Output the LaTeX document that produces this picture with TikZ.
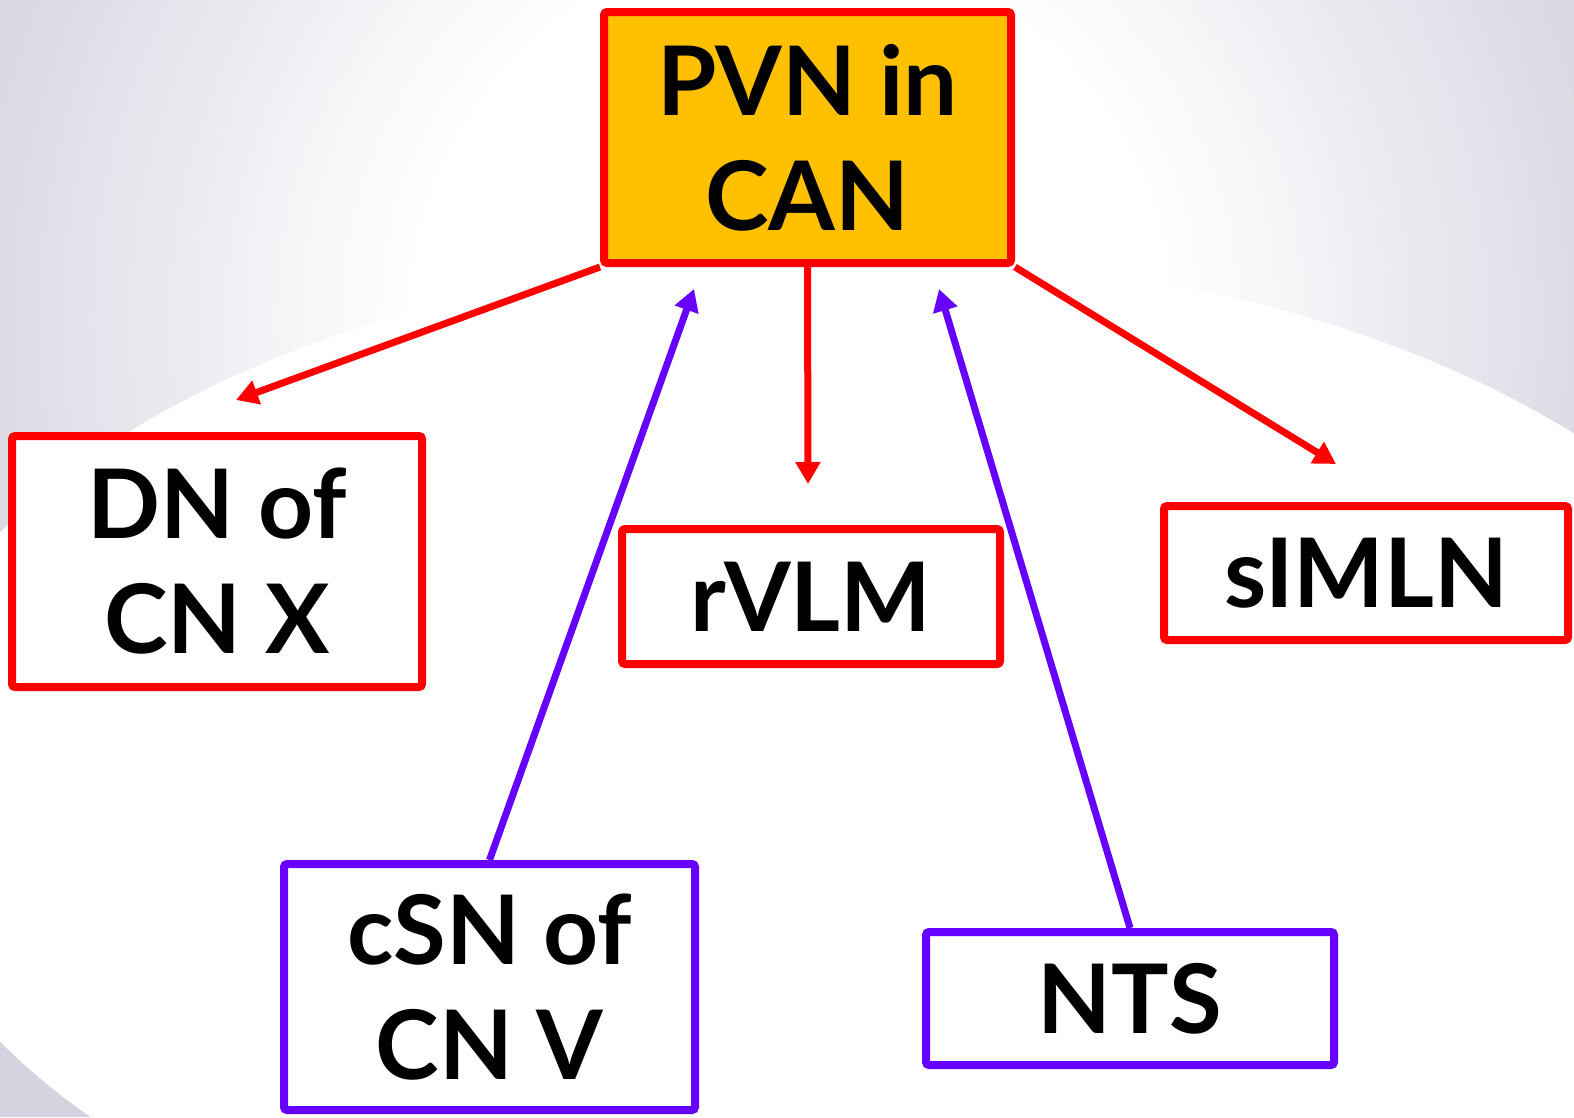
\documentclass[tikz,border=0pt]{standalone}
\usepackage{fontspec}
\setmainfont{Lato}
\usetikzlibrary{arrows.meta}
\definecolor{bggray}{RGB}{214,210,223}
\definecolor{boxred}{RGB}{255,0,0}
\definecolor{boxpurple}{RGB}{102,0,255}
\definecolor{gold}{RGB}{255,192,0}
\begin{document}
\begin{tikzpicture}[x=1pt,y=-1pt,
  box/.style={draw, line width=8pt, rounded corners=3pt, fill=white, align=center,
    inner sep=0pt, font=\fontsize{96}{115}\selectfont\bfseries},
  redbox/.style={box, draw=boxred},
  purplebox/.style={box, draw=boxpurple},
  conn/.style={line width=7pt, -{Triangle[length=22pt,width=24pt]}}
]
\useasboundingbox (0,0) rectangle (1574,1117);
\begin{scope}
\clip (0,0) rectangle (1574,1117);
\fill[bggray] (0,0) rectangle (1574,1117);
\foreach \i in {0,...,48}{
  \pgfmathsetmacro{\rad}{900-\i*10.8}
  \pgfmathsetmacro{\pct}{100-\i*100/48}
  \fill[bggray!\pct!white] (790,320) circle (\rad pt);
}
\fill[white] (850,787) ellipse [x radius=967pt, y radius=533pt];
\end{scope}

\node[redbox, fill=gold, minimum width=407pt, minimum height=251pt] (pvn) at (807.5,137.5) {PVN in\\CAN};
\node[redbox, minimum width=410pt, minimum height=251pt] (dn) at (217,561.5) {DN of\\CN X};
\node[redbox, minimum width=378pt, minimum height=135pt] (rvlm) at (811,596.5) {rVLM};
\node[redbox, minimum width=404pt, minimum height=134pt] (simln) at (1366,573) {sIMLN};
\node[purplebox, minimum width=411pt, minimum height=246pt] (csn) at (489.5,987) {cSN of\\CN V};
\node[purplebox, minimum width=408pt, minimum height=133pt] (nts) at (1130,998.5) {NTS};

\coordinate (tipdn) at (236,400);
\coordinate (tiprv) at (808,484);
\coordinate (tipsi) at (1336,464);
\coordinate (tipcs) at (694,289);
\coordinate (tipnt) at (939,289);

\draw[conn, boxred] (pvn.south west) -- (tipdn);
\draw[conn, boxred] (pvn.south) -- (tiprv);
\draw[conn, boxred] (pvn.south east) -- (tipsi);
\draw[conn, boxpurple] (csn.north) -- (tipcs);
\draw[conn, boxpurple] (nts.north) -- (tipnt);
\end{tikzpicture}
\end{document}
